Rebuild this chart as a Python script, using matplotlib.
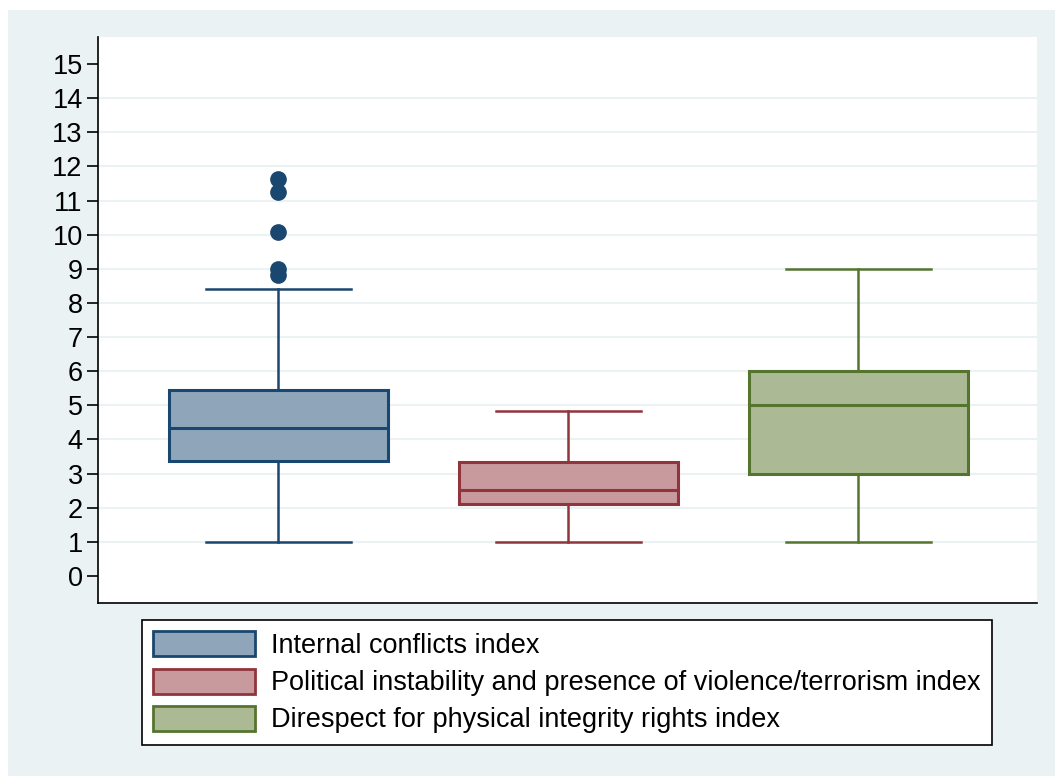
import matplotlib.pyplot as plt
from matplotlib.patches import Patch, Rectangle

plt.rcParams['font.family'] = ['Liberation Sans', 'DejaVu Sans']

labels = ['Internal conflicts index',
          'Political instability and presence of violence/terrorism index',
          'Direspect for physical integrity rights index']
lower_whisker = [1.0, 1.0, 1.0]
q1 = [3.37, 2.10, 3.0]
median = [4.34, 2.52, 5.0]
q3 = [5.45, 3.35, 6.0]
upper_whisker = [8.41, 4.84, 9.0]
outliers = [[8.82, 9.0, 10.08, 11.25, 11.63], [], []]

edge_colors = ['#1a476f', '#90353b', '#55752f']
fill_colors = ['#8fa6ba', '#c8999d', '#abba94']
bg = '#eaf2f3'

fig = plt.figure(figsize=(10.55, 7.76), dpi=100, facecolor='white')
fig.patches.append(Rectangle((8/1055, 0), 1, 1 - 10/776, transform=fig.transFigure,
                             facecolor=bg, edgecolor='none', zorder=-10))
ax = fig.add_axes([98/1055, 1 - 603/776, (1037 - 98)/1055, (603 - 37)/776])
ax.set_facecolor('white')

positions = [1, 2, 3]
for i in range(3):
    stats = [dict(whislo=lower_whisker[i], q1=q1[i], med=median[i], q3=q3[i],
                  whishi=upper_whisker[i], fliers=outliers[i])]
    ec = edge_colors[i]
    ax.bxp(stats, positions=[positions[i]], widths=0.755, capwidths=0.5,
           patch_artist=True, showfliers=True,
           boxprops=dict(facecolor=fill_colors[i], edgecolor=ec, linewidth=2.2),
           medianprops=dict(color=ec, linewidth=2.2),
           whiskerprops=dict(color=ec, linewidth=1.8),
           capprops=dict(color=ec, linewidth=1.8),
           flierprops=dict(marker='o', markerfacecolor=ec, markeredgecolor=ec,
                           markersize=11))

ax.set_xlim(0.379, 3.617)
ax.set_ylim(-0.791, 15.79)
ax.set_yticks(range(0, 16))
ax.set_xticks([])
for v in range(1, 15):
    ax.axhline(v, color=bg, linewidth=1.5, zorder=0)
ax.tick_params(axis='y', labelsize=19.5, length=8, width=1.2, pad=3, colors='black')
ax.spines['top'].set_visible(False)
ax.spines['right'].set_visible(False)
ax.spines['left'].set_linewidth(1.2)
ax.spines['bottom'].set_linewidth(1.2)

handles = [Patch(facecolor=fill_colors[i], edgecolor=edge_colors[i], linewidth=2.0)
           for i in range(3)]
leg = fig.legend(handles, labels, loc='upper center',
                 bbox_to_anchor=(567/1055, 1 - 620/776), fontsize=19.5,
                 frameon=True, fancybox=False, edgecolor='black',
                 facecolor='white', framealpha=1,
                 handlelength=3.74, handleheight=1.04, handletextpad=0.6,
                 labelspacing=0.35, borderpad=0.42, borderaxespad=0)
leg.get_frame().set_linewidth(1.2)

fig.savefig('out.png', dpi=100, facecolor='white')
